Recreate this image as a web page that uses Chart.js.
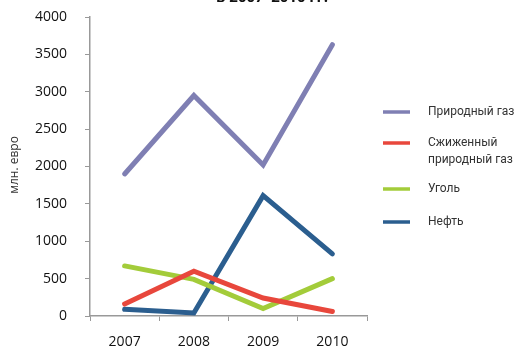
<!DOCTYPE html>
<html><head><meta charset="utf-8">
<script src="https://cdn.jsdelivr.net/npm/chart.js@4"></script>
<style>html,body{margin:0;padding:0;background:#fff;overflow:hidden}#wrap{width:532px;height:347px;position:relative}</style>
</head><body><div id="wrap"><canvas id="c" width="532" height="347"></canvas></div>
<script>
const categories = ['2007','2008','2009','2010'];
const gasValues = [1900, 2950, 2020, 3630];
const lngValues = [160, 600, 240, 60];
const coalValues = [670, 490, 100, 500];
const oilValues = [90, 40, 1610, 830];
const seriesNames = ['Природный газ', ['Сжиженный','природный газ'], 'Уголь', 'Нефть'];
const yTicks = [0,500,1000,1500,2000,2500,3000,3500,4000];
const titleText = 'в 2007–2010 гг.';
const yTitle = 'млн. евро';

const colors = ['#7f7fb3', '#e8473c', '#a3cc3a', '#2b5e8f'];

const legendPlugin = {
  id: 'customLegend',
  afterDraw(chart) {
    const ctx = chart.ctx;
    const ys = [112, 143, 189, 222];
    ctx.save();
    chart.data.datasets.forEach((ds, i) => {
      ctx.strokeStyle = ds.borderColor;
      ctx.lineWidth = 3.5;
      ctx.beginPath();
      ctx.moveTo(383, ys[i]);
      ctx.lineTo(410, ys[i]);
      ctx.stroke();
      ctx.fillStyle = '#333';
      ctx.font = '12px Roboto';
      ctx.textBaseline = 'middle';
      ctx.textAlign = 'left';
      const lbl = Array.isArray(seriesNames[i]) ? seriesNames[i] : [seriesNames[i]];
      lbl.forEach((t, k) => ctx.fillText(t, 428, ys[i] + k * 17));
    });
    // title (partially cut off at top)
    ctx.fillStyle = '#111';
    ctx.font = 'bold 15px "Open Sans"';
    ctx.textAlign = 'center';
    ctx.textBaseline = 'alphabetic';
    ctx.fillText(titleText, 272, 2);
    // y title
    ctx.translate(15, 165);
    ctx.rotate(-Math.PI / 2);
    ctx.font = '12px "Open Sans"';
    ctx.fillStyle = '#333';
    ctx.textBaseline = 'middle';
    ctx.fillText(yTitle, 0, 0);
    ctx.restore();
  }
};

const mk = (label, data, color) => ({
  label, data, borderColor: color, backgroundColor: color,
  borderWidth: 5, pointRadius: 0, tension: 0, borderCapStyle: 'round', clip: false
});

new Chart(document.getElementById('c'), {
  type: 'line',
  data: {
    labels: categories,
    datasets: [
      mk('Природный газ', gasValues, colors[0]),
      mk('Сжиженный природный газ', lngValues, colors[1]),
      mk('Уголь', coalValues, colors[2]),
      mk('Нефть', oilValues, colors[3])
    ]
  },
  options: {
    responsive: false,
    animation: false,
    layout: { padding: { left: 0, right: 165, top: 17, bottom: 0 } },
    plugins: { legend: { display: false }, title: { display: false }, tooltip: { enabled: false } },
    scales: {
      x: {
        offset: true,
        grid: { display: true, drawOnChartArea: false, drawTicks: true, tickLength: 5, color: '#999', offset: true },
        border: { color: '#999', width: 1.5 },
        ticks: { color: '#111', font: { family: 'Open Sans', size: 14 }, padding: 13, maxRotation: 0 },
        afterFit(s) { s.height = 31; s.paddingLeft = 0; s.paddingRight = 0; }
      },
      y: {
        min: 0, max: 4000,
        afterBuildTicks(s) { s.ticks = yTicks.map(v => ({ value: v })); },
        grid: { display: true, drawOnChartArea: false, drawTicks: true, tickLength: 5, color: '#999' },
        border: { color: '#999', width: 1.5 },
        ticks: { color: '#111', font: { family: 'Open Sans', size: 14 }, padding: 18, callback: v => String(v) },
        afterFit(s) { s.width = 90; s.paddingTop = 0; s.paddingBottom = 0; }
      }
    }
  },
  plugins: [legendPlugin]
});
</script></body></html>
